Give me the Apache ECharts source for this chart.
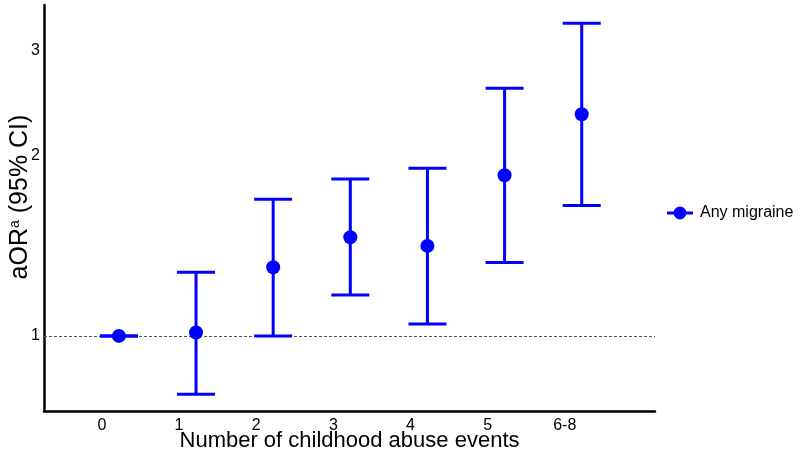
<!DOCTYPE html>
<html>
<head>
<meta charset="utf-8">
<script src="https://cdn.jsdelivr.net/npm/echarts@6/dist/echarts.min.js"></script>
<style>html,body{margin:0;padding:0;background:#fff;}#chart{width:800px;height:454px;}</style>
</head>
<body>
<div id="chart"></div>
<script>
const categories = ['0', '1', '2', '3', '4', '5', '6-8'];
const estimate = [1.00, 1.013, 1.302, 1.462, 1.414, 1.856, 2.346];
const lower = [1.00, 0.799, 1.00, 1.171, 1.047, 1.326, 1.651];
const upper = [1.00, 1.278, 1.692, 1.829, 1.906, 2.594, 3.331];
const yTicks = [1, 2, 3];
const seriesName = 'Any migraine';

const dodge = 0.22;
const blue = '#0000ff';
const pointData = categories.map((c, i) => [i + dodge, estimate[i]]);
const barData = categories.map((c, i) => [i + dodge, lower[i], upper[i]]);

const chart = echarts.init(document.getElementById('chart'), null, {renderer: 'canvas'});
chart.setOption({
  animation: false,
  backgroundColor: '#ffffff',
  grid: {left: 44, right: 145, top: 5, bottom: 43, containLabel: false, outerBoundsMode: 'none'},
  legend: {
    show: true,
    data: [seriesName],
    left: 662, top: 200,
    orient: 'vertical',
    itemWidth: 26, itemHeight: 14, itemGap: 8,
    icon: 'path://M0,5.5L26,5.5L26,8.5L0,8.5Z M13,0.5A6.5,6.5 0 1,1 12.99,0.5Z',
    textStyle: {fontFamily: 'Liberation Sans, Arial, sans-serif', fontSize: 16, color: '#000', padding: [0, 0, 0, 2]}
  },
  xAxis: {
    type: 'value',
    min: -0.751, max: 7.17,
    axisLine: {show: true, onZero: false, lineStyle: {color: '#000', width: 2.5}},
    axisTick: {show: false},
    splitLine: {show: false},
    axisLabel: {
      customValues: categories.map((c, i) => i),
      formatter: v => categories[Math.round(v)],
      margin: 7,
      fontFamily: 'Liberation Sans, Arial, sans-serif', fontSize: 16, color: '#000'
    },
    name: 'Number of childhood abuse events',
    nameLocation: 'middle',
    nameMoveOverlap: false,
    nameGap: 19,
    nameTextStyle: {fontFamily: 'Liberation Sans, Arial, sans-serif', fontSize: 22, color: '#000'}
  },
  yAxis: {
    type: 'log',
    logBase: 10,
    min: 0.749, max: 3.573,
    axisLine: {show: true, onZero: false, lineStyle: {color: '#000', width: 2.5}},
    axisTick: {show: false},
    splitLine: {show: false},
    minorTick: {show: false},
    axisLabel: {
      customValues: yTicks,
      formatter: v => String(Math.round(v)),
      margin: 4,
      fontFamily: 'Liberation Sans, Arial, sans-serif', fontSize: 16, color: '#000'
    },
    name: 'aOR{sup|a} (95% CI)',
    nameLocation: 'middle',
    nameRotate: 90,
    nameMoveOverlap: false,
    nameGap: 11,
    nameTextStyle: {
      fontFamily: 'Liberation Sans, Arial, sans-serif', fontSize: 25, color: '#000',
      padding: [0, 0, 0, 22],
      rich: {sup: {fontSize: 14, verticalAlign: 'top', padding: [0, 0, 10, 0], fontFamily: 'Liberation Sans, Arial, sans-serif', color: '#000'}}
    }
  },
  series: [
    {
      type: 'custom',
      name: 'ci',
      data: barData,
      encode: {x: 0, y: [1, 2]},
      renderItem: function (params, api) {
        const x = api.value(0);
        const lo = api.coord([x, api.value(1)]);
        const hi = api.coord([x, api.value(2)]);
        const half = 19;
        const style = {stroke: blue, lineWidth: 3, fill: null};
        return {
          type: 'group',
          children: [
            {type: 'line', shape: {x1: lo[0], y1: lo[1], x2: hi[0], y2: hi[1]}, style: style},
            {type: 'line', shape: {x1: lo[0] - half, y1: lo[1], x2: lo[0] + half, y2: lo[1]}, style: style},
            {type: 'line', shape: {x1: hi[0] - half, y1: hi[1], x2: hi[0] + half, y2: hi[1]}, style: style}
          ]
        };
      },
      z: 2
    },
    {
      type: 'scatter',
      name: seriesName,
      data: pointData,
      symbol: 'circle',
      symbolSize: 14,
      itemStyle: {color: blue, opacity: 1},
      z: 3,
      markLine: {
        silent: true,
        symbol: ['none', 'none'],
        label: {show: false},
        lineStyle: {color: '#555', width: 1, type: [3, 2]},
        data: [{yAxis: 1}],
        z: 1
      }
    }
  ]
});
</script>
</body>
</html>
